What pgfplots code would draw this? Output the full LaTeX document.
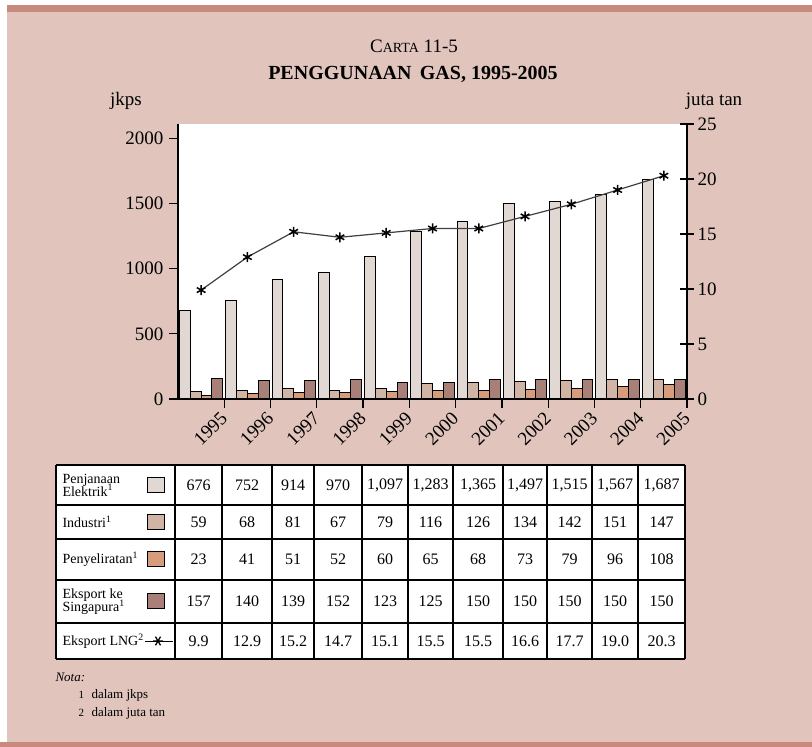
\documentclass[border=0pt]{standalone}
\usepackage{pgfplots}
\pgfplotsset{compat=1.18}
\usepackage{fontspec}
\setmainfont{Liberation Serif}
\definecolor{bg}{RGB}{225,197,189}
\definecolor{bord}{RGB}{201,138,126}
\definecolor{cA}{RGB}{226,216,211}
\definecolor{cB}{RGB}{208,181,165}
\definecolor{cC}{RGB}{214,156,124}
\definecolor{cD}{RGB}{168,128,120}
\newcommand{\tk}{\fontsize{19}{20}\selectfont}
\newcommand{\tn}{\fontsize{16}{17}\selectfont}
\newcommand{\tl}{\fontsize{14}{15}\selectfont}
\begin{document}
\begin{tikzpicture}[x=1pt,y=1pt]
\useasboundingbox (0,0) rectangle (812,747);
\fill[white] (0,0) rectangle (812,747);
\fill[bg] (7,5) rectangle (812,735);
\fill[bord] (7,735) rectangle (812,742);
\fill[bord] (0,0) rectangle (812,5);
% titles
\node[font=\fontsize{19}{20}\selectfont] at (414,701) {C{\fontsize{14}{15}\selectfont ARTA} 11-5};
\node[font=\fontsize{20}{22}\selectfont\bfseries] at (413,673) {PENGGUNAAN\, GAS, 1995-2005};
\node[font=\fontsize{19}{20}\selectfont] at (126,646) {jkps};
\node[font=\fontsize{19}{20}\selectfont] at (714,646) {juta tan};
\begin{axis}[
  at={(178pt,348pt)}, anchor=south west,
  scale only axis, width=509pt, height=275pt,
  xmin=0.5, xmax=11.5, ymin=0, ymax=2110,
  axis x line*=bottom, axis y line*=left,
  axis background/.style={fill=white},
  axis line style={black, line width=1.2pt},
  ybar=0pt, bar width=10.8pt,
  xtick={1.5,2.5,3.5,4.5,5.5,6.5,7.5,8.5,9.5,10.5,11.5},
  xticklabels={1995,1996,1997,1998,1999,2000,2001,2002,2003,2004,2005},
  ytick={0,500,1000,1500,2000},
  scaled y ticks=false,
  /pgf/number format/1000 sep={},
  /pgf/number format/assume math mode=true,
  tick style={black, line width=1.2pt},
  major tick length=9pt, tick align=outside,
  x tick label style={rotate=45, anchor=east, yshift=-5pt, xshift=-2pt, font=\tk},
  y tick label style={font=\tk, xshift=-2pt},
]
\addplot[fill=cA, draw=black, line width=1pt] coordinates {(1,676) (2,752) (3,914) (4,970) (5,1097) (6,1283) (7,1365) (8,1497) (9,1515) (10,1567) (11,1687)};
\addplot[fill=cB, draw=black, line width=1pt] coordinates {(1,59) (2,68) (3,81) (4,67) (5,79) (6,116) (7,126) (8,134) (9,142) (10,151) (11,147)};
\addplot[fill=cC, draw=black, line width=1pt] coordinates {(1,23) (2,41) (3,51) (4,52) (5,60) (6,65) (7,68) (8,73) (9,79) (10,96) (11,108)};
\addplot[fill=cD, draw=black, line width=1pt] coordinates {(1,157) (2,140) (3,139) (4,152) (5,123) (6,125) (7,150) (8,150) (9,150) (10,150) (11,150)};
\end{axis}
\begin{axis}[
  at={(178pt,348pt)}, anchor=south west,
  scale only axis, width=509pt, height=275pt,
  xmin=0.5, xmax=11.5, ymin=0, ymax=25,
  axis x line=none, axis y line*=right,
  axis line style={black, line width=1.2pt},
  ytick={0,5,10,15,20,25},
  /pgf/number format/assume math mode=true,
  tick style={black, line width=1.2pt},
  major tick length=14pt, tick align=center,
  y tick label style={font=\tk},
]
\addplot[black!75, line width=1.2pt, mark=asterisk, mark size=5pt, mark options={black, line width=1.5pt}] coordinates {(1,9.9) (2,12.9) (3,15.2) (4,14.7) (5,15.1) (6,15.5) (7,15.5) (8,16.6) (9,17.7) (10,19.0) (11,20.3)};
\end{axis}
% data table
\fill[white] (56,88) rectangle (685,282);
\foreach \x in {56,175,222,272,314,362,408,453,503,547,592,638,685}
  \draw[black, line width=1.2pt] (\x,88) -- (\x,282);
\foreach \y in {88,124,167,208,242,282}
  \draw[black, line width=1.2pt] (56,\y) -- (685,\y);
% row labels and swatches
\node[anchor=west, align=left, font=\tl] at (59,262) {Penjanaan\\[-2pt]Elektrik\textsuperscript{1}};
\node[anchor=west, font=\tl] at (59,225) {Industri\textsuperscript{1}};
\node[anchor=west, font=\tl] at (59,187.5) {Penyeliratan\textsuperscript{1}};
\node[anchor=west, align=left, font=\tl] at (59,145.5) {Eksport ke\\[-2pt]Singapura\textsuperscript{1}};
\node[anchor=west, font=\tl] at (59,106) {Eksport LNG\textsuperscript{2}};
\filldraw[fill=cA, draw=black, line width=1pt] (147.5,254.5) rectangle (164.5,269.5);
\filldraw[fill=cB, draw=black, line width=1pt] (147.5,217.5) rectangle (164.5,232.5);
\filldraw[fill=cC, draw=black, line width=1pt] (147.5,180) rectangle (164.5,195);
\filldraw[fill=cD, draw=black, line width=1pt] (147.5,138) rectangle (164.5,153);
\draw[black, line width=0.9pt] (145,106) -- (173,106);
\draw[black, line width=1.3pt] (153,106) -- (163,106) (155.5,101.7) -- (160.5,110.3) (155.5,110.3) -- (160.5,101.7);
% numbers
\newcommand{\tabrow}[2]{%
  \foreach \v [count=\i] in {#2} {
    \pgfmathsetmacro{\cx}{{198.5,247,293,338,385,430.5,478,525,569.5,615,661.5}[\i-1]}
    \node[font=\tn] at (\cx,#1) {\v};
  }}
\tabrow{262}{676,752,914,970,{1,097},{1,283},{1,365},{1,497},{1,515},{1,567},{1,687}}
\tabrow{225}{59,68,81,67,79,116,126,134,142,151,147}
\tabrow{187.5}{23,41,51,52,60,65,68,73,79,96,108}
\tabrow{145.5}{157,140,139,152,123,125,150,150,150,150,150}
\tabrow{106}{9.9,12.9,15.2,14.7,15.1,15.5,15.5,16.6,17.7,19.0,20.3}
% notes
\node[anchor=west, font=\fontsize{13}{14}\selectfont\itshape] at (52,70) {Nota:};
\node[anchor=west, font=\fontsize{11}{12}\selectfont] at (75,52) {1};
\node[anchor=west, font=\fontsize{13}{14}\selectfont] at (88,52) {dalam jkps};
\node[anchor=west, font=\fontsize{11}{12}\selectfont] at (75,34) {2};
\node[anchor=west, font=\fontsize{13}{14}\selectfont] at (88,34) {dalam juta tan};
\end{tikzpicture}
\end{document}
